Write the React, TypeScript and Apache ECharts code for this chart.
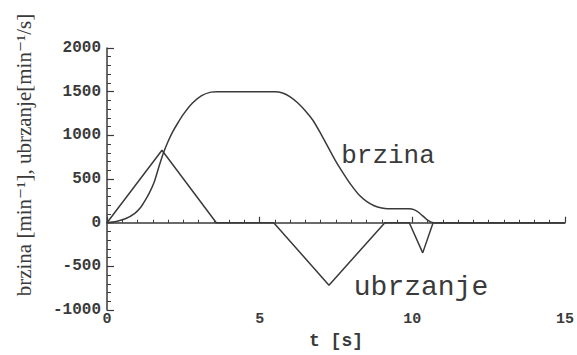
import React, { useEffect, useRef } from "react";
import * as echarts from "echarts";

const brzinaT = [0, 0.3, 0.6, 0.9, 1.1, 1.25, 1.4, 1.55, 1.7, 1.85, 2.0, 2.15, 2.3, 2.5, 2.8, 3.1, 3.4, 3.6, 5.5, 5.75, 6.0, 6.25, 6.5, 6.75, 7.0, 7.25, 7.5, 7.75, 8.0, 8.25, 8.5, 8.75, 9.0, 9.2, 9.9, 10.05, 10.2, 10.35, 10.5, 10.7, 15];
const brzinaV = [0, 15, 45, 105, 175, 255, 350, 470, 640, 800, 930, 1040, 1130, 1240, 1370, 1455, 1495, 1500, 1500, 1485, 1440, 1370, 1280, 1170, 1020, 860, 700, 560, 430, 320, 245, 195, 168, 160, 160, 150, 120, 75, 30, 0, 0];

const ubrzanjeT = [0, 1.8, 3.58, 5.46, 7.27, 9.1, 9.9, 10.34, 10.68, 15];
const ubrzanjeV = [0, 830, 0, 0, -715, 0, 0, -345, 0, 0];

const yMin = -1000;
const yMax = 2000;
const yStep = 500;
const xMin = 0;
const xMax = 15;
const xStep = 5;

const xTitle = "t [s]";
const yTitle = "brzina [min\u207B\u00B9], ubrzanje[min\u207B\u00B9/s]";
const labelBrzina = "brzina";
const labelUbrzanje = "ubrzanje";

const ink = "#3a3a3a";
const mono = "'Liberation Mono', 'DejaVu Sans Mono', monospace";
const serif = "'Liberation Serif', 'DejaVu Serif', serif";

export default function App() {
  const ref = useRef<HTMLDivElement>(null);
  useEffect(() => {
    if (!ref.current) return;
    const chart = echarts.init(ref.current, undefined, { renderer: "svg" });
    const zip = (t: number[], v: number[]) => t.map((x, i) => [x, v[i]]);
    chart.setOption({
      animation: false,
      backgroundColor: "#ffffff",
      grid: { left: 107, right: 10, top: 48, bottom: 33, containLabel: false },
      xAxis: {
        type: "value",
        min: xMin,
        max: xMax,
        interval: xStep,
        name: xTitle,
        nameLocation: "middle",
        nameGap: 21,
        nameTextStyle: { fontFamily: mono, fontSize: 18, fontWeight: "bold", color: ink },
        axisLine: { show: true, lineStyle: { color: ink, width: 1.5 } },
        axisTick: { show: true, inside: true, length: 6, lineStyle: { color: ink, width: 1.2 } },
        minorTick: { show: true, splitNumber: 10, length: 3, lineStyle: { color: ink, width: 1 } },
        axisLabel: {
          fontFamily: mono,
          fontSize: 15,
          fontWeight: "bold",
          color: ink,
          margin: 2,
          formatter: (v: number) => String(v),
        },
        splitLine: { show: false },
      },
      yAxis: {
        type: "value",
        min: yMin,
        max: yMax,
        interval: yStep,
        axisLine: { show: true, lineStyle: { color: ink, width: 1.5 } },
        axisTick: { show: true, inside: true, length: 7, lineStyle: { color: ink, width: 1.2 } },
        minorTick: { show: true, splitNumber: 5, length: 4, lineStyle: { color: ink, width: 1 } },
        axisLabel: {
          fontFamily: mono,
          fontSize: 16,
          fontWeight: "bold",
          color: ink,
          margin: 6,
          formatter: (v: number) => String(v),
        },
        splitLine: { show: false },
      },
      series: [
        {
          name: labelBrzina,
          type: "line",
          data: zip(brzinaT, brzinaV),
          smooth: 0.2,
          symbol: "none",
          lineStyle: { color: ink, width: 1.5 },
        },
        {
          name: labelUbrzanje,
          type: "line",
          data: zip(ubrzanjeT, ubrzanjeV),
          smooth: false,
          symbol: "none",
          lineStyle: { color: ink, width: 1.5 },
        },
      ],
      graphic: [
        {
          type: "text",
          x: 24,
          y: 155,
          rotation: Math.PI / 2,
          style: {
            text: yTitle,
            fontFamily: serif,
            fontSize: 21,
            fill: ink,
            align: "center",
            verticalAlign: "middle",
          },
        },
        {
          type: "text",
          x: 388,
          y: 156,
          style: {
            text: labelBrzina,
            fontFamily: mono,
            fontSize: 26,
            fill: ink,
            align: "center",
            verticalAlign: "middle",
          },
        },
        {
          type: "text",
          x: 421,
          y: 287,
          style: {
            text: labelUbrzanje,
            fontFamily: mono,
            fontSize: 28,
            fill: ink,
            align: "center",
            verticalAlign: "middle",
          },
        },
      ],
    });
    return () => chart.dispose();
  }, []);
  return (
    <div
      ref={ref}
      style={{ position: "fixed", left: 0, top: 0, width: 577, height: 355, background: "#fff" }}
    />
  );
}
